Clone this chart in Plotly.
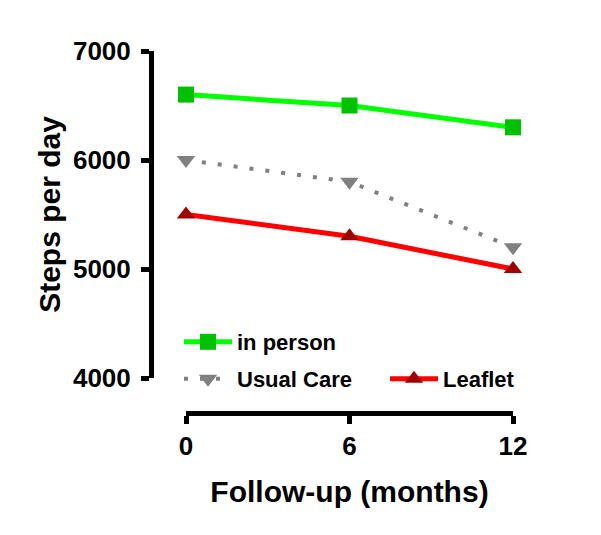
import plotly.graph_objects as go

months = [0, 6, 12]
in_person = [6600, 6500, 6300]
usual_care = [6000, 5800, 5200]
leaflet = [5500, 5300, 5000]

x_ticks = [0, 6, 12]
y_ticks = [4000, 5000, 6000, 7000]

W, H = 601, 535
FONT = "Arial, Liberation Sans, sans-serif"

fig = go.Figure()
fig.add_trace(go.Scatter(
    x=months, y=in_person, name="in person", mode="lines+markers",
    line=dict(color="#00FF00", width=5),
    marker=dict(symbol="square", size=16, color="#00C000"),
    cliponaxis=False, legend="legend", showlegend=True))
fig.add_trace(go.Scatter(
    x=months, y=usual_care, name="Usual Care", mode="lines+markers",
    line=dict(color="#808080", width=4, dash="4px,12px"),
    marker=dict(symbol="triangle-down", size=16, color="#808080"),
    cliponaxis=False, legend="legend2", showlegend=True))
fig.add_trace(go.Scatter(
    x=months, y=leaflet, name="Leaflet", mode="lines+markers",
    line=dict(color="#FF0000", width=5),
    marker=dict(symbol="triangle-up", size=16, color="#A00000"),
    cliponaxis=False, legend="legend3", showlegend=True))

ml, mr, mt, mb = 151, 88, 51, 122
pw = W - ml - mr
ph = H - mt - mb
xdom0 = (186 - ml) / pw
ydom0 = (413 - 378) / ph

legfont = dict(family=FONT, size=22, color="black", weight="bold")

def leg(px, py):
    return dict(x=(px - ml) / pw, y=1 - (py - mt) / ph, xref="paper", yref="paper",
                xanchor="left", yanchor="middle", font=legfont, itemwidth=48,
                bgcolor="rgba(0,0,0,0)", borderwidth=0)

fig.update_layout(
    width=W, height=H, showlegend=True,
    margin=dict(l=ml, r=mr, t=mt, b=mb, autoexpand=False),
    plot_bgcolor="white", paper_bgcolor="white",
    font=dict(family=FONT, color="black", weight="bold"),
    xaxis=dict(
        domain=[xdom0, 1], range=[0, 12], anchor="free", position=0,
        tickvals=x_ticks, ticktext=[str(v) for v in x_ticks], tickangle=0,
        showline=True, linecolor="black", linewidth=5,
        ticks="outside", ticklen=8, tickwidth=5, tickcolor="black",
        showgrid=False, zeroline=False,
        tickfont=dict(family=FONT, size=26, color="black", weight="bold"),
        title=dict(text="Follow-up (months)", standoff=20,
                   font=dict(family=FONT, size=30, color="black", weight="bold")),
        automargin=False,
    ),
    yaxis=dict(
        domain=[ydom0, 1], range=[4000, 7000], anchor="free", position=0,
        tickvals=y_ticks, ticktext=[str(v) for v in y_ticks],
        showline=True, linecolor="black", linewidth=5, ticklabelstandoff=5,
        ticks="outside", ticklen=8, tickwidth=5, tickcolor="black",
        showgrid=False, zeroline=False,
        tickfont=dict(family=FONT, size=26, color="black", weight="bold"),
        title=dict(text="Steps per day", standoff=2,
                   font=dict(family=FONT, size=30, color="black", weight="bold")),
        automargin=False,
    ),
    legend=leg(179, 342),
    legend2=leg(179, 379),
    legend3=leg(385, 379),
)

fig.write_html("out.html")
